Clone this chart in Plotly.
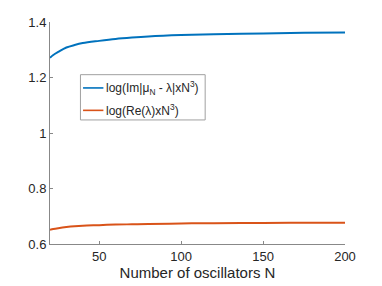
import plotly.graph_objects as go

N = [20, 22, 25, 30, 35, 40, 50, 60, 70, 80, 100, 120, 150, 175, 200]
im_vals = [1.271, 1.281, 1.292, 1.308, 1.317, 1.324, 1.332, 1.339, 1.344, 1.348, 1.353, 1.356, 1.359, 1.361, 1.362]
re_vals = [0.651, 0.654, 0.657, 0.661, 0.664, 0.666, 0.668, 0.670, 0.671, 0.672, 0.674, 0.675, 0.676, 0.677, 0.677]

label_im = "log(Im|μ<sub>N</sub> - λ|xN<sup>3</sup>)"
label_re = "log(Re(λ)xN<sup>3</sup>)"
colors = ["#0072BD", "#D95319"]

FONT = "Liberation Sans, Arial, sans-serif"
TXT = "#262626"

fig = go.Figure()
fig.add_trace(go.Scatter(x=N, y=im_vals, mode="lines", name=label_im,
                         line=dict(color=colors[0], width=2, shape="spline")))
fig.add_trace(go.Scatter(x=N, y=re_vals, mode="lines", name=label_re,
                         line=dict(color=colors[1], width=2, shape="spline")))

shapes = [dict(type="rect", xref="paper", yref="paper", x0=0.1032, x1=0.526, y0=0.5588, y1=0.7627,
               line=dict(color="#a0a0a0", width=1), fillcolor="white", layer="above")]
annotations = []
for ly, lab, col in [(0.703, label_im, colors[0]), (0.602, label_re, colors[1])]:
    shapes.append(dict(type="line", xref="paper", yref="paper", x0=0.112, x1=0.181, y0=ly, y1=ly,
                       line=dict(color=col, width=1.6), layer="above"))
    annotations.append(dict(xref="paper", yref="paper", x=0.184, y=ly, text=lab, showarrow=False,
                            xanchor="left", yanchor="middle",
                            font=dict(family=FONT, size=12, color=TXT)))

fig.update_layout(
    width=382, height=286,
    margin=dict(l=49.5, r=37, t=21.5, b=39),
    paper_bgcolor="white", plot_bgcolor="white",
    font=dict(family=FONT, size=13, color=TXT),
    showlegend=False,
    shapes=shapes, annotations=annotations,
    xaxis=dict(range=[20, 200], tickvals=[50, 100, 150, 200], ticks="inside", ticklen=3,
               tickcolor="#888888", showline=True, linecolor="#888888", linewidth=1,
               showgrid=False, zeroline=False, tickfont=dict(size=13, color=TXT),
               title=dict(text="Number of oscillators N", standoff=0,
                          font=dict(family=FONT, size=15, color=TXT))),
    yaxis=dict(range=[0.6, 1.4], tickvals=[0.6, 0.8, 1.0, 1.2, 1.4],
               ticktext=["0.6", "0.8", "1", "1.2", "1.4"], ticks="inside", ticklen=3,
               tickcolor="#888888", showline=True, linecolor="#888888", linewidth=1,
               showgrid=False, zeroline=False, tickfont=dict(size=13, color=TXT)),
)

fig.write_html("out.html", config={"displayModeBar": False},
               post_script="document.body.style.margin='0';document.body.style.overflow='hidden';")
